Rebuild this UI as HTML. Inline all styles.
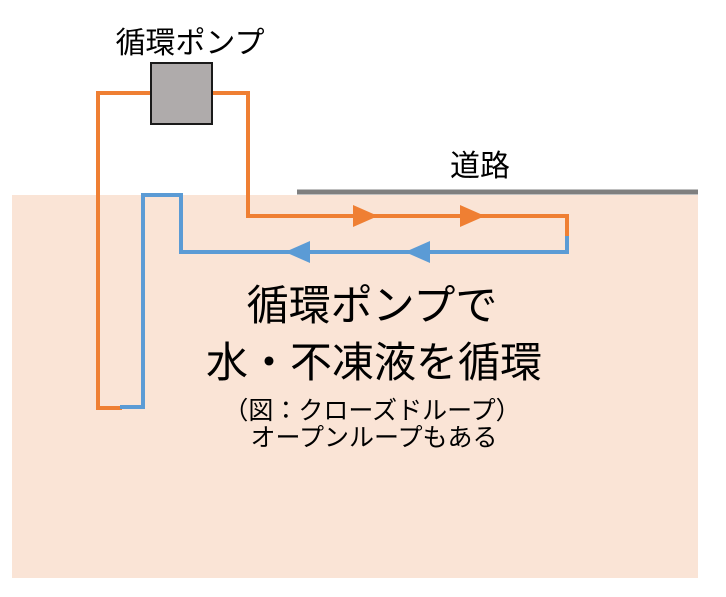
<!DOCTYPE html>
<html><head><meta charset="utf-8"><style>
body{margin:0;width:726px;height:592px;background:#fff;overflow:hidden}
svg text{font-family:"Liberation Sans","Noto Sans CJK JP",sans-serif;fill:#000}
</style></head><body>
<svg width="726" height="592" viewBox="0 0 726 592">
<rect x="12" y="195" width="686" height="383" fill="#fae4d6"/>
<line x1="297" y1="192" x2="698" y2="192" stroke="#7f7f7f" stroke-width="5"/>
<polyline points="151,93 98,93 98,408 122,408" fill="none" stroke="#ef7f33" stroke-width="4"/>
<polyline points="212,93 248,93 248,216 567,216 567,238" fill="none" stroke="#ef7f33" stroke-width="4"/>
<polyline points="120,407 143,407 143,195 181,195 181,252 567,252 567,236" fill="none" stroke="#5b9bd5" stroke-width="4"/>
<rect x="151" y="63" width="61" height="61" fill="#afabab" stroke="#1a1a1a" stroke-width="2"/>
<polygon points="353,205 378,216 353,227" fill="#ef7f33"/>
<polygon points="460,205 485,216 460,227" fill="#ef7f33"/>
<polygon points="310,241 285,252 310,263" fill="#5b9bd5"/>
<polygon points="430,241 405,252 430,263" fill="#5b9bd5"/>
<text x="190" y="53" font-size="30" text-anchor="middle">循環ポンプ</text>
<text x="480" y="176" font-size="30" text-anchor="middle">道路</text>
<text x="372" y="320" font-size="42" text-anchor="middle">循環ポンプで</text>
<text x="374" y="377" font-size="42" text-anchor="middle">水・不凍液を循環</text>
<text x="372" y="419" font-size="25" text-anchor="middle">（図：クローズドループ）</text>
<text x="374" y="446" font-size="25" text-anchor="middle">オープンループもある</text>
</svg>
</body></html>
